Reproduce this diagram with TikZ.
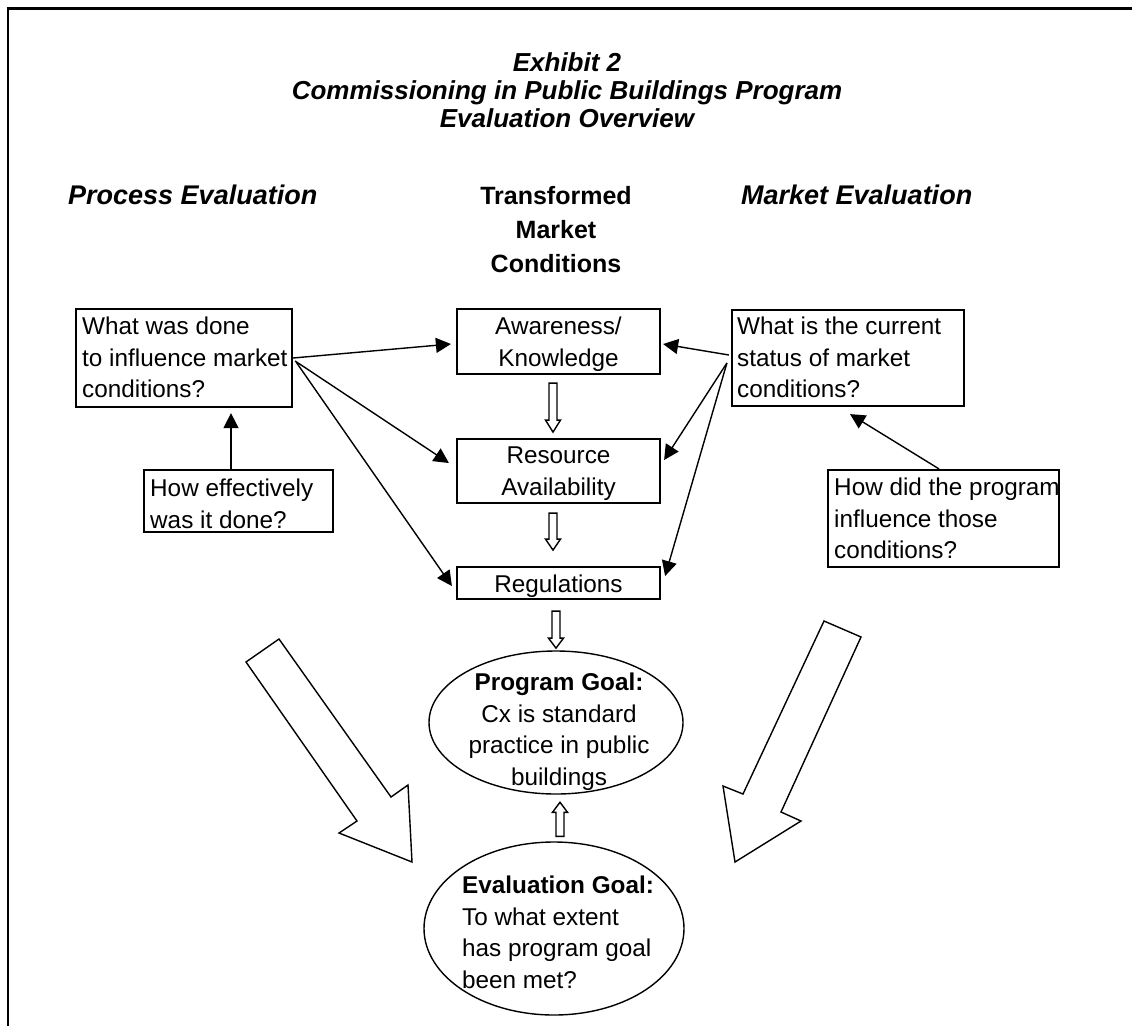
\documentclass[tikz,border=0pt]{standalone}
\usepackage{fontspec}
\setmainfont{Liberation Sans}
\usetikzlibrary{arrows.meta,calc,shapes.geometric}
\newcommand\fl[1][20pt]{\rule{0pt}{#1}}
\newcommand\hollowarr[3]{\draw[hol] #1 ++(-4,0) -- ++(0,#2) -- ++(-3.5,0) -- ++(7.5,#3) -- ++(7.5,{-1*(#3)}) -- ++(-3.5,0) -- ++(0,{-1*(#2)}) -- cycle;}
\begin{document}
\begin{tikzpicture}[x=1pt,y=-1pt,
 bx/.style={draw,line width=2.2pt,inner sep=0pt},
 txt/.style={inner sep=0pt,font=\fontsize{24.3}{31.8}\selectfont,align=left,anchor=north west},
 ctxt/.style={inner sep=0pt,font=\fontsize{24.3}{31.8}\selectfont,align=center,anchor=north},
 arr/.style={line width=1.4pt,-{Triangle[length=15pt,width=15pt]}},
 hol/.style={line width=1.4pt,fill=white,line join=miter},
 el/.style={draw,ellipse,line width=1.4pt,inner sep=0pt}]
\fill[white] (0,0) rectangle (1132,1026);
\useasboundingbox (0,0) rectangle (1132,1026);
\draw[line width=2.6pt] (6.7,8.5) -- (1132,8.5);
\draw[line width=2.2pt] (8,8.5) -- (8,1026);
% headings
\node[inner sep=0pt,align=center,anchor=north,font=\fontsize{26}{28}\selectfont\bfseries\itshape] (title) at (567,49) {\fl[22pt]Exhibit 2\\Commissioning in Public Buildings Program\\Evaluation Overview};
\node[anchor=base west,inner sep=0pt,font=\fontsize{27}{30}\selectfont\bfseries\itshape] (pe) at (68,204) {Process Evaluation};
\node[anchor=base west,inner sep=0pt,font=\fontsize{27}{30}\selectfont\bfseries\itshape] (me) at (741,204) {Market Evaluation};
\node[inner sep=0pt,align=center,anchor=north,font=\fontsize{25}{34}\selectfont\bfseries] (tmc) at (556,183) {\fl[21pt]Transformed\\Market\\Conditions};
% boxes
\node[bx,minimum width=216pt,minimum height=98pt] (A) at (184,358) {};
\node[bx,minimum width=189pt,minimum height=62pt] (B) at (238.5,501) {};
\node[bx,minimum width=203pt,minimum height=65pt] (Aw) at (558.5,341.5) {};
\node[bx,minimum width=203pt,minimum height=64pt] (Res) at (558.5,471) {};
\node[bx,minimum width=203pt,minimum height=32pt] (Reg) at (558.5,583) {};
\node[bx,minimum width=232pt,minimum height=96pt] (C) at (848,358) {};
\node[bx,minimum width=231pt,minimum height=97pt] (D) at (943.5,518.5) {};
% texts
\node[txt] (At) at (82,314) {\fl What was done\\to influence market\\conditions?};
\node[txt] (Bt) at (150,476) {\fl How effectively\\was it done?};
\node[ctxt] (Awt) at (558.5,314) {\fl Awareness/\\Knowledge};
\node[ctxt] (Rest) at (558.5,443) {\fl Resource\\Availability};
\node[ctxt] (Regt) at (558.5,572) {\fl Regulations};
\node[txt] (Ct) at (737,314) {\fl What is the current\\status of market\\conditions?};
\node[txt] (Dt) at (834,475) {\fl How did the program\\influence those\\conditions?};
% ellipses
\node[el,minimum width=254pt,minimum height=143pt] (PG) at (556,722.5) {};
\node[el,minimum width=260pt,minimum height=173pt] (EG) at (554,928.5) {};
\node[ctxt] (PGt) at (559,670) {\fl\textbf{Program Goal:}\\Cx is standard\\practice in public\\buildings};
\node[txt] (EGt) at (462,873) {\fl\textbf{Evaluation Goal:}\\To what extent\\has program goal\\been met?};
% connectors
\draw[arr] (A.east) -- ($(Aw.west)+(-5,2.5)$);
\draw[arr] ($(A.east)+(2,3)$) -- ($(Res.west)+(-7,-8)$);
\draw[arr] ($(A.east)+(3,4)$) -- ($(Reg.west)+(-4,3)$);
\draw[arr] ($(C.west)+(-2,-3)$) -- ($(Aw.east)+(2,2.5)$);
\draw[arr] ($(C.west)+(-4,5)$) -- ($(Res.east)+(3,-11)$);
\draw[arr] ($(C.west)+(-4,5)$) -- ($(Reg.east)+(4,-7)$);
\draw[arr] ($(B.north)+(-7.5,0)$) -- ($(A.south)+(47,5)$);
\draw[arr] ($(D.north)+(-4.5,0)$) -- ($(C.south)+(2,7)$);
% hollow arrows
\hollowarr{($(Aw.south)+(-5.5,8)$)}{37}{12}
\hollowarr{($(Res.south)+(-5.5,9)$)}{26}{11}
\hollowarr{($(Reg.south)+(-2.5,11)$)}{27}{10}
\hollowarr{($(EG.north)+(6,-5)$)}{-24}{-10}
% big arrows
\draw[hol] (246,662) -- (279,639) -- (391,797) -- (408,785) -- (412,862) -- (339,833) -- (357,821) -- cycle;
\draw[hol] (824,621) -- (861,637) -- (781,812) -- (801,821) -- (735,862) -- (723,786) -- (743,794) -- cycle;
\end{tikzpicture}
\end{document}
